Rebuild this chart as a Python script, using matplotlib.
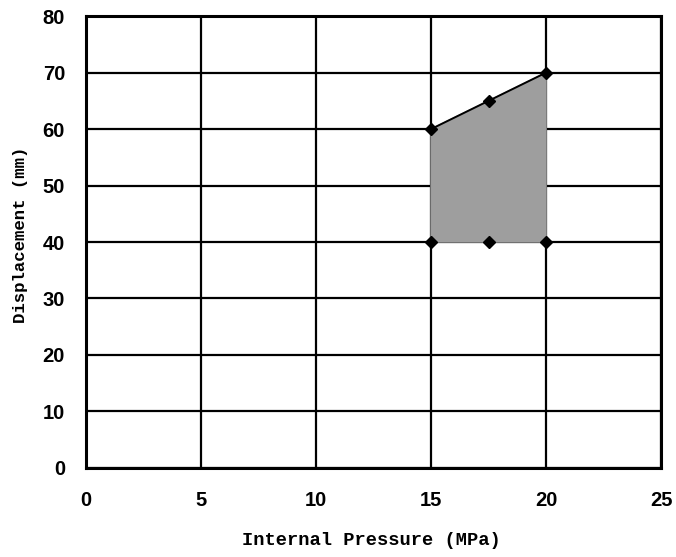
import matplotlib
matplotlib.use("Agg")
import matplotlib.pyplot as plt

# vertices of the shaded region, traced around its outline
pressure = [15, 17.5, 20, 20, 17.5, 15]
displacement = [60, 65, 70, 40, 40, 40]

x_ticks = [0, 5, 10, 15, 20, 25]
y_ticks = [0, 10, 20, 30, 40, 50, 60, 70, 80]

fig = plt.figure(figsize=(6.76, 5.57), dpi=100)
ax = fig.add_axes([0.127, 0.160, 0.851, 0.811])

ax.fill(pressure, displacement, color="#9e9e9e", zorder=2)
ax.plot(pressure[:3], displacement[:3], color="black", lw=1.4, zorder=3)
ax.plot(pressure, displacement, "D", color="black", ms=6, zorder=4)

ax.set_xlim(0, 25)
ax.set_ylim(0, 80)
ax.set_xticks(x_ticks)
ax.set_yticks(y_ticks)
ax.grid(True, color="black", lw=1.6, zorder=1)
ax.set_axisbelow(True)
for s in ax.spines.values():
    s.set_linewidth(2.2)
ax.tick_params(axis="x", length=0, pad=17, labelsize=14.5)
ax.tick_params(axis="y", length=0, pad=15, labelsize=14.5)
for lab in ax.get_xticklabels() + ax.get_yticklabels():
    lab.set_fontfamily("Liberation Sans")
    lab.set_fontweight("bold")

ax.set_xlabel("Internal Pressure (MPa)", family="Liberation Mono",
              fontweight="bold", fontsize=13.5)
ax.set_ylabel("Displacement (mm)", family="Liberation Mono",
              fontweight="bold", fontsize=12.5)
ax.xaxis.set_label_coords(0.496, -0.142)
ax.yaxis.set_label_coords(-0.127, 0.517)
ax.yaxis.label.set_horizontalalignment("center")
ax.yaxis.label.set_verticalalignment("top")

fig.savefig("out.png", dpi=100)
